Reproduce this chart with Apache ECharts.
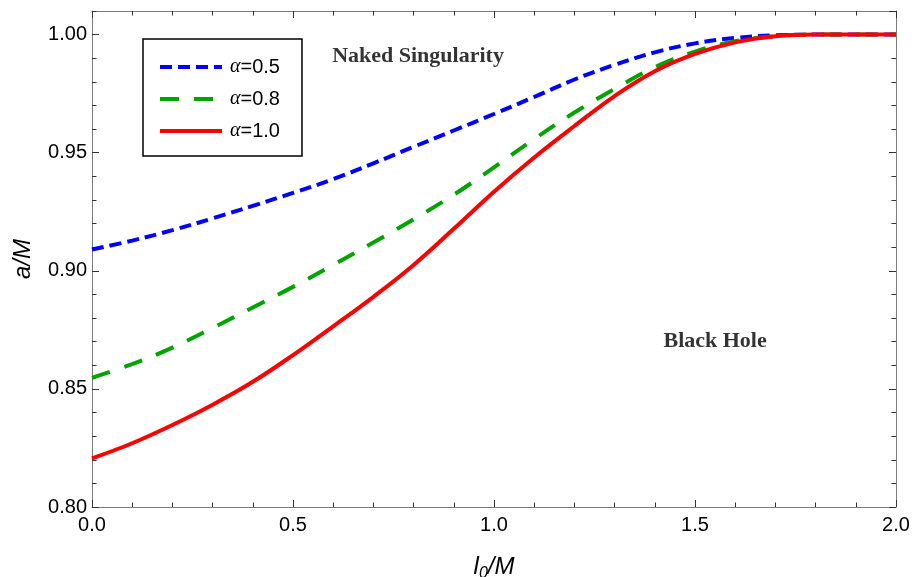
<!DOCTYPE html>
<html>
<head>
<meta charset="utf-8">
<script src="https://cdn.jsdelivr.net/npm/echarts@6/dist/echarts.min.js"></script>
<style>html,body{margin:0;padding:0;background:#fff}#c{width:912px;height:577px}</style>
</head>
<body>
<div id="c"></div>
<script>
const xValues = [0, 0.1, 0.2, 0.3, 0.4, 0.5, 0.6, 0.7, 0.8, 0.9, 1.0, 1.1, 1.2, 1.3, 1.4, 1.5, 1.6, 1.7, 1.8, 1.9, 2.0];
const alpha05 = [0.909, 0.9128, 0.9172, 0.9222, 0.9275, 0.933, 0.9388, 0.9455, 0.9525, 0.9594, 0.9664, 0.9736, 0.981, 0.9872, 0.9925, 0.9963, 0.9986, 0.9997, 1.0, 1.0, 1.0];
const alpha08 = [0.8547, 0.8605, 0.8675, 0.8758, 0.8845, 0.8932, 0.9025, 0.912, 0.9218, 0.9322, 0.9438, 0.9558, 0.967, 0.977, 0.9862, 0.9928, 0.9972, 0.9993, 1.0, 1.0, 1.0];
const alpha10 = [0.8206, 0.827, 0.8347, 0.8433, 0.853, 0.8643, 0.8765, 0.889, 0.9025, 0.9178, 0.9335, 0.948, 0.9613, 0.974, 0.9845, 0.9918, 0.9967, 0.9993, 1.0, 1.0, 1.0];
const seriesNames = ['α=0.5', 'α=0.8', 'α=1.0'];
const noteX = [0.811, 1.55];
const noteY = [0.991, 0.870];
const noteText = ['Naked Singularity', 'Black Hole'];

const zip = (ys) => xValues.map((x, i) => [x, ys[i]]);
const frame = '#7a7a7a';
const tickColor = '#333';
const labelFont = { color: '#000', fontSize: 20, fontFamily: 'Liberation Sans, Arial, sans-serif' };

function xAx(pos, labels) {
  return {
    type: 'value', position: pos, min: 0, max: 2, interval: 0.5,
    axisLine: { show: true, onZero: false, lineStyle: { color: frame, width: 1 } },
    axisTick: { show: true, inside: true, length: 7, lineStyle: { color: tickColor } },
    minorTick: { show: true, splitNumber: 5, length: 4.5, lineStyle: { color: tickColor } },
    splitLine: { show: false }, minorSplitLine: { show: false },
    axisLabel: Object.assign({ show: labels, margin: 8, formatter: v => v.toFixed(1) }, labelFont),
    name: labels ? '{i|l}{s|0}{i|/M}' : '',
    nameLocation: 'middle', nameGap: 45,
    nameTextStyle: { rich: {
      i: { fontSize: 24, fontStyle: 'italic', fontFamily: 'Liberation Sans, Arial', color: '#000', lineHeight: 30 },
      s: { fontSize: 16, fontStyle: 'italic', fontFamily: 'Liberation Sans, Arial', color: '#000', lineHeight: 30, verticalAlign: 'bottom', padding: [12, 0, 0, 0] }
    } }
  };
}
function yMajor(pos, labels) {
  return {
    type: 'value', position: pos, min: 0.8, max: 1.01, interval: 0.05,
    axisLine: { show: true, onZero: false, lineStyle: { color: frame, width: 1 } },
    axisTick: { show: true, inside: true, length: 7, lineStyle: { color: tickColor } },
    splitLine: { show: false },
    axisLabel: Object.assign({ show: labels, margin: 5, showMaxLabel: false, formatter: v => v.toFixed(2) }, labelFont),
    name: labels ? 'a/M' : '',
    nameLocation: 'middle', nameGap: 57, nameRotate: 90,
    nameTextStyle: { fontSize: 24, fontStyle: 'italic', fontFamily: 'Liberation Sans, Arial', color: '#000' }
  };
}
function yMinor(pos) {
  return {
    type: 'value', position: pos, min: 0.8, max: 1.01, interval: 0.01,
    axisLine: { show: false, onZero: false },
    axisTick: { show: true, inside: true, length: 4.5, lineStyle: { color: tickColor } },
    splitLine: { show: false },
    axisLabel: { show: false }
  };
}

const chart = echarts.init(document.getElementById('c'));
chart.setOption({
  animation: false,
  backgroundColor: '#fff',
  grid: { left: 92, right: 16, top: 11, bottom: 70, containLabel: false, outerBoundsMode: 'none' },
  xAxis: [xAx('bottom', true), xAx('top', false)],
  yAxis: [yMajor('left', true), yMinor('left'), yMajor('right', false), yMinor('right')],
  legend: {
    data: seriesNames,
    orient: 'vertical', left: 143, top: 39,
    padding: [18, 22, 15, 15], itemGap: 12, itemWidth: 62, itemHeight: 14,
    borderColor: '#000', borderWidth: 1.5, backgroundColor: '#fff',
    itemStyle: { opacity: 0 },
    lineStyle: { width: 4 },
    formatter: n => '{a|α}' + n.slice(1),
    textStyle: { color: '#000', fontSize: 20, fontFamily: 'Liberation Sans, Arial',
      rich: { a: { fontSize: 20, fontStyle: 'italic', fontFamily: 'Liberation Serif, serif', color: '#000', padding: [0, 0, 0, 3] } } }
  },
  series: [
    { name: seriesNames[0], type: 'line', data: zip(alpha05), smooth: 0.4, symbol: 'none', color: '#0000ff',
      lineStyle: { color: '#0000ff', width: 4, type: [12, 6] }, z: 2 },
    { name: seriesNames[1], type: 'line', data: zip(alpha08), smooth: 0.4, symbol: 'none', color: '#00a400',
      lineStyle: { color: '#00a400', width: 4, type: [19, 15] }, z: 3 },
    { name: seriesNames[2], type: 'line', data: zip(alpha10), smooth: 0.4, symbol: 'none', color: '#ff0000',
      lineStyle: { color: '#ff0000', width: 4, type: 'solid' }, z: 4 },
    { name: 'notes', type: 'scatter', symbolSize: 0, silent: true,
      data: noteX.map((x, i) => ({ value: [x, noteY[i]], label: { formatter: noteText[i] } })),
      label: { show: true, position: 'inside', color: '#000', fontSize: 22, fontWeight: 'bold', fontFamily: 'Liberation Serif, Times New Roman, serif' } }
  ]
});
</script>
</body>
</html>
